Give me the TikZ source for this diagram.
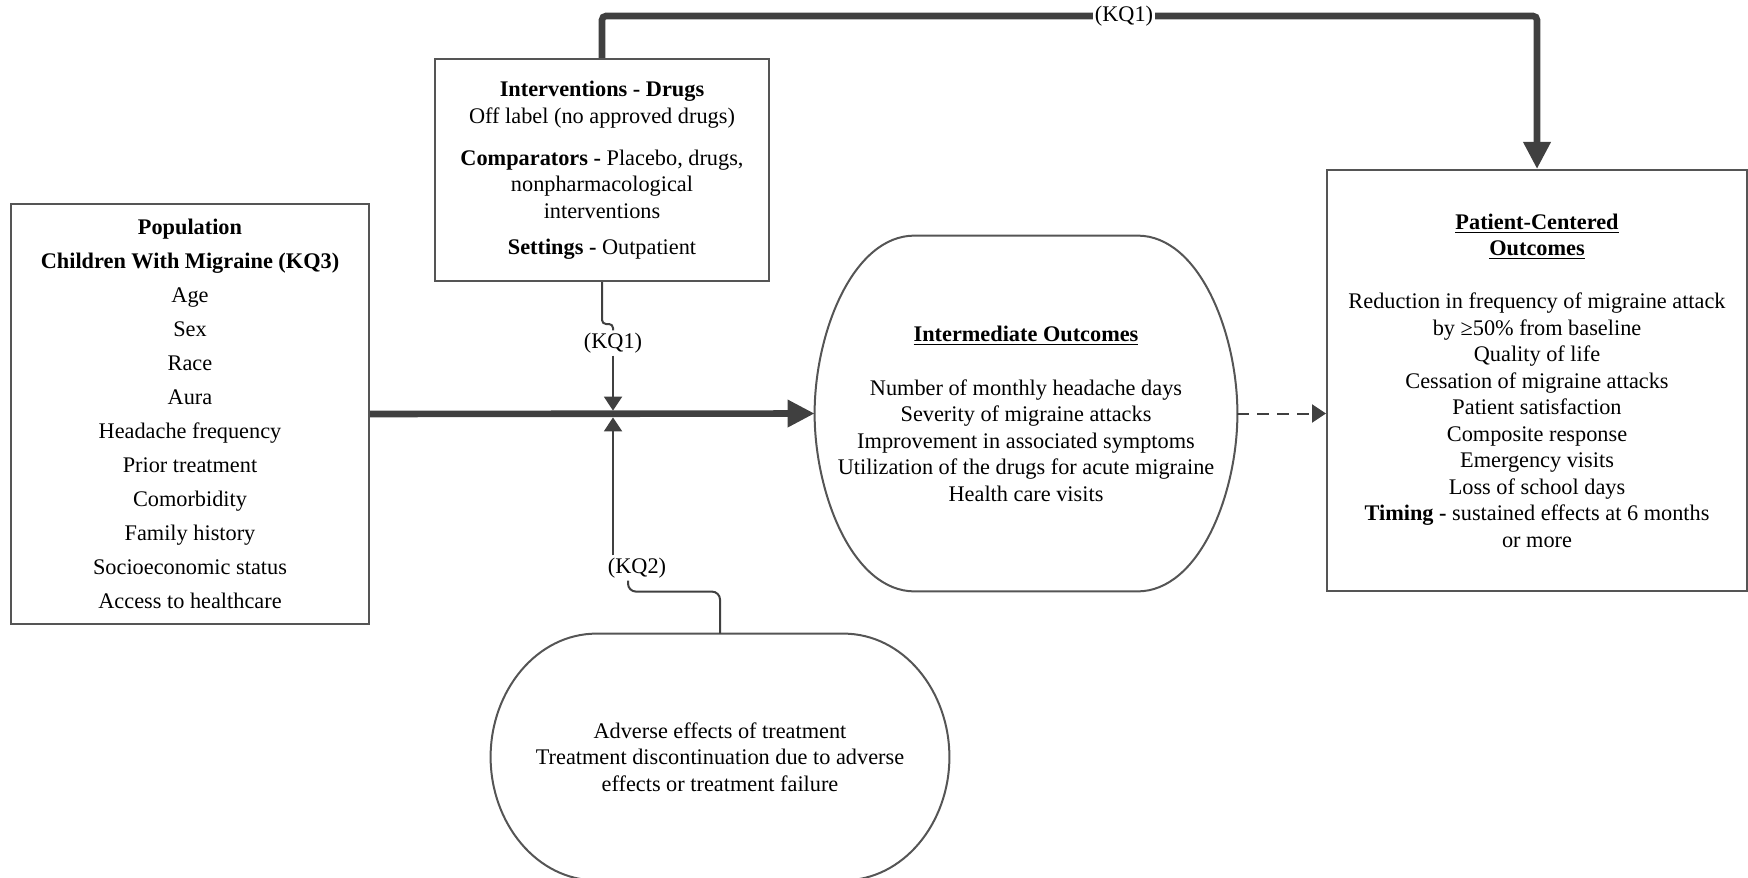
\documentclass[tikz,border=0pt]{standalone}
\usepackage{fontspec}
\setmainfont{Liberation Serif}
\usetikzlibrary{calc,arrows.meta}
\definecolor{linegray}{RGB}{64,64,64}
\definecolor{boxgray}{RGB}{85,85,85}
\tikzset{
  box/.style={draw=boxgray,line width=1pt,inner sep=0pt,align=center},
  ovalnode/.style={inner sep=0pt,align=center},
  ovalline/.style={draw=boxgray,line width=1pt},
  bigarrow/.style={linegray,line width=3.3pt,-{Triangle[length=13.5pt,width=13pt]}},
  kqline/.style={linegray,line width=1pt},
  kqarrow/.style={kqline,-{Triangle[length=7pt,width=9pt]}},
  dasharrow/.style={kqarrow,dash pattern=on 6pt off 4pt},
  kqlabel/.style={fill=white,inner sep=1pt}
}
\newcommand{\hd}[1]{\underline{\textbf{#1}}}
% outline of an oval node: name, side bulge, horizontal and vertical handle
\newcommand{\ovaloutline}[4]{%
  \draw[ovalline] ($(#1.north west)+(#2,0)$) -- ($(#1.north east)+(-#2,0)$)
    .. controls +(#3,0) and +(0,-#4) .. (#1.east)
    .. controls +(0,#4) and +(#3,0) .. ($(#1.south east)+(-#2,0)$)
    -- ($(#1.south west)+(#2,0)$)
    .. controls +(-#3,0) and +(0,#4) .. (#1.west)
    .. controls +(0,-#4) and +(-#3,0) .. cycle;}

\begin{document}
\begin{tikzpicture}[x=0.5pt,y=-0.5pt,font=\fontsize{11.15}{13.25}\selectfont]
  \useasboundingbox (0,0) rectangle (1748,877);

  % Boxes
  \node[box,minimum width=179pt,minimum height=210pt,font=\fontsize{11.15}{17}\selectfont] (pop) at (190,414)
    {\textbf{Population}\\ \textbf{Children With Migraine (KQ3)}\\ Age\\ Sex\\ Race\\ Aura\\ Headache frequency\\
     Prior treatment\\ Comorbidity\\ Family history\\ Socioeconomic status\\ Access to healthcare};
  \node[box,minimum width=167pt,minimum height=111pt] (int) at (602,170)
    {\textbf{Interventions - Drugs}\\ Off label (no approved drugs)\\[7.75pt]
     \textbf{Comparators -} Placebo, drugs,\\ nonpharmacological\\ interventions\\[4.75pt]
     \textbf{Settings -} Outpatient};
  \node[box,minimum width=210pt,minimum height=210.5pt] (pat) at (1537,380.5)
    {\hd{Patient-Centered}\\ \hd{Outcomes}\\[13.25pt]
     Reduction in frequency of migraine attack\\ by ≥50\% from baseline\\ Quality of life\\
     Cessation of migraine attacks\\ Patient satisfaction\\ Composite response\\ Emergency visits\\
     Loss of school days\\ \textbf{Timing -} sustained effects at 6 months\\ or more};

  % Outcome ovals
  \node[ovalnode,minimum width=211pt,minimum height=177.5pt] (inter) at (1026,413.5)
    {\hd{Intermediate Outcomes}\\[13.75pt]
     Number of monthly headache days\\ Severity of migraine attacks\\ Improvement in associated symptoms\\
     Utilization of the drugs for acute migraine\\ Health care visits};
  \ovaloutline{inter}{100}{62}{80}
  \node[ovalnode,minimum width=229pt,minimum height=123pt] (adv) at (720,757)
    {Adverse effects of treatment\\ Treatment discontinuation due to adverse\\ effects or treatment failure};
  \ovaloutline{adv}{106}{60}{66}

  % Main path
  \draw[bigarrow] (pop.east) -- (inter.west);
  \draw[dasharrow] (inter.east) -- (inter.east -| pat.west);

  % Direct path (KQ1)
  \coordinate (toprun) at (1124,16);
  \draw[bigarrow,rounded corners=2pt] (int.north) |- (toprun) -| (pat.north);
  \node[kqlabel] (kqtop) at (toprun) {(KQ1)};

  % KQ1 and KQ2 onto the main path
  \node[kqlabel] (kqa) at (613,343) {(KQ1)};
  \coordinate (junc) at (kqa |- pop.east);
  \draw[kqline,rounded corners=2pt] (int.south) -- ++(0,42) -| (kqa.north);
  \draw[kqarrow,shorten >=1.7pt] (kqa.south) -- (junc);
  \node[kqlabel] (kqb) at (637,568) {(KQ2)};
  \draw[kqarrow,shorten >=1.7pt] (kqb.north -| junc) -- (junc);
  \draw[kqline,rounded corners=4pt] (adv.north) -- ++(0,-42) -| ([xshift=-4.5pt]kqb.south);
\end{tikzpicture}
\end{document}
